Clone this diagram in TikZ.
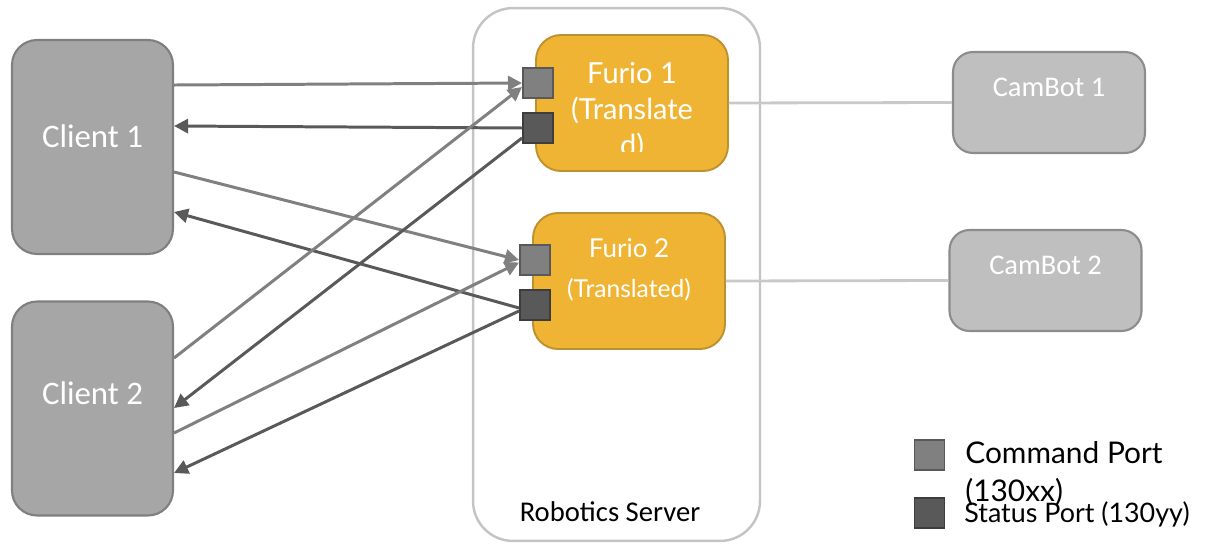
\documentclass[tikz,border=0pt]{standalone}
\usepackage{fontspec}
\usepackage{xcolor}
\usepackage{tikz}
\usetikzlibrary{arrows.meta}
\newfontfamily\carlito{Carlito}
\newfontfamily\lato{Lato}
\definecolor{clientfill}{HTML}{A6A6A6}
\definecolor{clientborder}{HTML}{7F7F7F}
\definecolor{botfill}{HTML}{BFBFBF}
\definecolor{botborder}{HTML}{8C8C8C}
\definecolor{furiofill}{HTML}{F0B434}
\definecolor{furioborder}{HTML}{BE9130}
\definecolor{serverborder}{HTML}{C4C4C4}
\definecolor{cmdgray}{HTML}{808080}
\definecolor{statgray}{HTML}{595959}

\begin{document}
\begin{tikzpicture}[x=0.02cm, y=-0.02cm,
    client/.style={draw=clientborder, fill=clientfill, line width=1.2pt, rounded corners=0.5cm,
      minimum width=3.22cm, minimum height=4.28cm},
    cambot/.style={draw=botborder, fill=botfill, line width=1.2pt, rounded corners=0.4cm,
      minimum width=3.84cm, minimum height=2.02cm},
    furio/.style={draw=furioborder, fill=furiofill, line width=1.1pt, rounded corners=0.5cm,
      minimum width=3.84cm, minimum height=2.72cm},
    server/.style={draw=serverborder, line width=1.4pt, rounded corners=0.8cm,
      minimum width=5.74cm, minimum height=10.66cm},
    cmdport/.style={draw=black!65, fill=cmdgray, line width=1.1pt, minimum size=0.6cm, inner sep=0pt},
    statport/.style={draw=black!76, fill=statgray, line width=1.1pt, minimum size=0.6cm, inner sep=0pt},
    boxtext/.style={text=white, font=\carlito\fontsize{18.7}{22}\selectfont},
    bottext/.style={text=white, font=\carlito\fontsize{16.2}{20}\selectfont},
    cmdline/.style={draw=cmdgray, line width=1.7pt, -{Triangle[length=8pt,width=8pt]}},
    statline/.style={draw=statgray, line width=1.7pt, -{Triangle[length=8pt,width=8pt]}},
    botlink/.style={draw=black!21, line width=1.6pt}]
    \useasboundingbox (0,0) rectangle (1210,544);

    % Server
    \node[server] (server) at (616.5,274.5) {};
    \node[font=\carlito\fontsize{16.3}{20}\selectfont] (servername) at (610,512) {Robotics Server};

    % Clients
    \node[client, label={[boxtext, yshift=0.22cm]center:Client 1}] (client1) at (92.5,147) {};
    \node[client, label={[boxtext, yshift=0.31cm]center:Client 2}] (client2) at (92.5,408.5) {};

    % Furios
    \node[furio] (furio1) at (632,103) {};
    \begin{scope}
      \clip (536,35) rectangle (728,151);
      \node[text=white, align=center, font=\lato\fontsize{16.5}{20.4}\selectfont] (furio1text) at (632,111)
        {Furio 1\\(Translate\\d)};
    \end{scope}
    \node[furio] (furio2) at (629,281) {};
    \node[text=white, align=center, font=\lato\fontsize{14.8}{22.7}\selectfont] (furio2text) at (629,270)
      {Furio 2\\{\fontsize{14}{22.7}\selectfont (Translated)}};

    % Ports
    \node[cmdport] (cmd1) at (538,83) {};
    \node[statport] (stat1) at (538,128) {};
    \node[cmdport] (cmd2) at (535,260) {};
    \node[statport] (stat2) at (535,305) {};

    % CamBots
    \node[cambot, label={[bottext, yshift=0.3cm]center:CamBot 1}] (cambot1) at (1049,102.5) {};
    \node[cambot, label={[bottext, yshift=0.3cm]center:CamBot 2}] (cambot2) at (1045.5,280.5) {};
    \draw[botlink] (furio1.east) -- (cambot1.west);
    \draw[botlink] (furio2.east) -- (cambot2.west);

    % Arrows
    \draw[cmdline] ([yshift=1.24cm]client1.east) -- (cmd1.west);
    \draw[statline] (stat1.west) -- ([yshift=0.42cm]client1.east);
    \draw[cmdline] ([yshift=-0.5cm]client1.east) -- (cmd2.west);
    \draw[statline] ([yshift=-0.06cm]stat2.west) -- ([yshift=-1.3cm]client1.east);
    \draw[cmdline] ([yshift=1.01cm]client2.east) -- ([yshift=-0.08cm]cmd1.west);
    \draw[statline] ([yshift=-0.2cm]stat1.west) -- ([yshift=0.01cm]client2.east);
    \draw[cmdline] ([yshift=-0.49cm]client2.east) -- ([yshift=-0.05cm]cmd2.west);
    \draw[statline] ([yshift=-0.12cm]stat2.west) -- ([yshift=-1.29cm]client2.east);

    % Legend
    \node[cmdport] (cmdkey) at (929.5,455) {};
    \node[statport] (statkey) at (929.5,513) {};
    \node[anchor=north west, align=left, inner sep=0pt, font=\lato\fontsize{17}{21.5}\selectfont] (cmdkeytext) at (965,441)
      {Command Port\\(130xx)};
    \node[anchor=west, inner sep=0pt, font=\lato\fontsize{15.3}{19}\selectfont] (statkeytext) at (964,514)
      {Status Port (130yy)};
\end{tikzpicture}
\end{document}
